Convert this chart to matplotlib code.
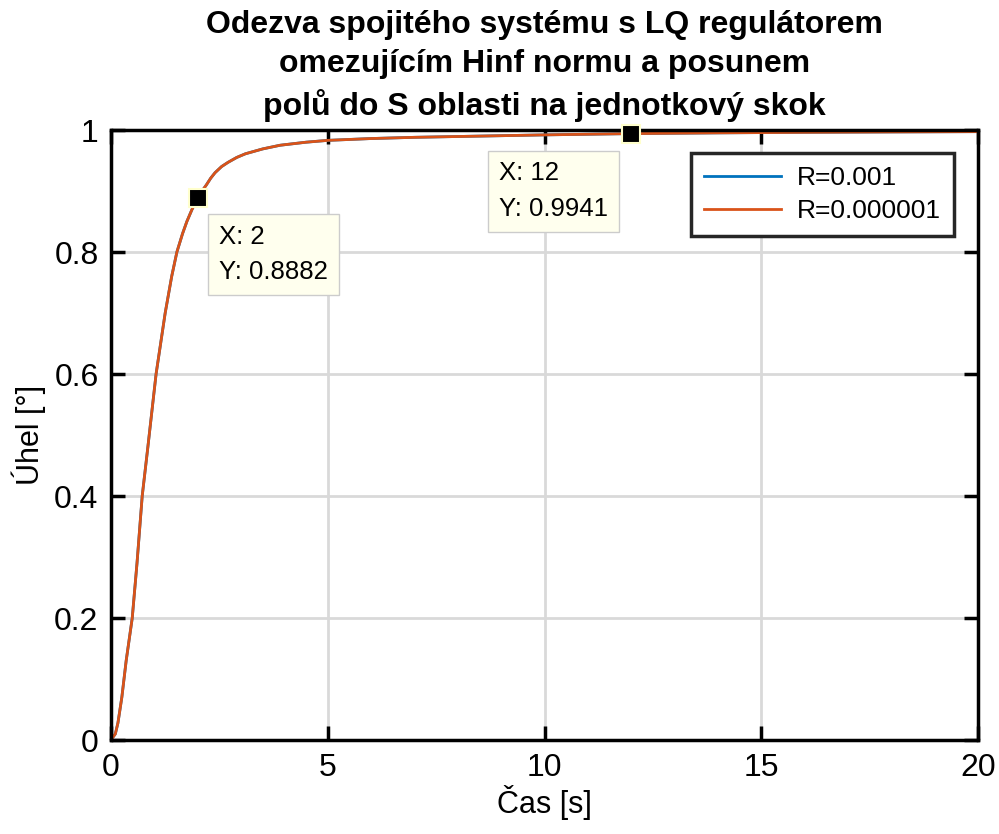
import matplotlib
matplotlib.use("Agg")
import matplotlib.pyplot as plt

# step response values
t = [0, 0.1, 0.16, 0.25, 0.35, 0.49, 0.6, 0.72, 0.85, 1.04, 1.25, 1.4, 1.52, 1.65, 1.75, 1.87, 2.0,
     2.1, 2.2, 2.3, 2.4, 2.55, 2.7, 2.9, 3.1, 3.5, 3.9, 4.5, 5, 6, 7, 8.5, 10, 12, 14, 16, 18, 20]
y_r1 = [0, 0.01, 0.028, 0.07, 0.13, 0.2, 0.29, 0.4, 0.48, 0.6, 0.7, 0.76, 0.8, 0.83, 0.85, 0.87, 0.8882,
        0.90, 0.91, 0.921, 0.93, 0.94, 0.947, 0.955, 0.961, 0.969, 0.975, 0.98, 0.983, 0.986, 0.988,
        0.990, 0.992, 0.9941, 0.9953, 0.9962, 0.9968, 0.9973]
y_r2 = [0, 0.01, 0.028, 0.07, 0.13, 0.2, 0.29, 0.4, 0.48, 0.6, 0.7, 0.76, 0.8, 0.83, 0.85, 0.87, 0.8882,
        0.90, 0.91, 0.921, 0.93, 0.94, 0.947, 0.955, 0.961, 0.969, 0.975, 0.98, 0.983, 0.986, 0.988,
        0.990, 0.992, 0.9941, 0.9953, 0.9962, 0.9968, 0.9973]
labels = ["R=0.001", "R=0.000001"]
tips_x = [2, 12]
tips_y = [0.8882, 0.9941]

plt.rcParams['font.family'] = ['Liberation Sans', 'DejaVu Sans']

fig = plt.figure(figsize=(9.99, 8.34), dpi=100)
ax = fig.add_axes([111/999, 1 - 740/834, (978-111)/999, (740-130)/834])

ax.plot(t, y_r1, color=(0, 0.447, 0.741), lw=2, label=labels[0])
ax.plot(t, y_r2, color=(0.85, 0.325, 0.098), lw=2, label=labels[1])

ax.set_xlim(0, 20)
ax.set_ylim(0, 1)
ax.set_xticks([0, 5, 10, 15, 20])
ax.set_yticks([0, 0.2, 0.4, 0.6, 0.8, 1])
ax.set_yticklabels(["0", "0.2", "0.4", "0.6", "0.8", "1"])
ax.grid(True, color='#d9d9d9', lw=2)
ax.set_axisbelow(True)
for s in ax.spines.values():
    s.set_linewidth(2.5)
ax.tick_params(direction='in', length=10, width=2.5, labelsize=23, top=True, right=True, pad=9)

ax.set_xlabel("Čas [s]", fontsize=22, labelpad=2)
ax.set_ylabel("Úhel [°]", fontsize=22, labelpad=6)
ax.set_title("Odezva spojitého systému s LQ regulátorem\nomezujícím Hinf normu a posunem\npolů do S oblasti na jednotkový skok",
             fontsize=23, fontweight='bold', pad=11, linespacing=1.38)

# datatips
ax.plot(tips_x, tips_y, 's', color='black', ms=13, mec='#ffffcc', mew=1.5, clip_on=False, zorder=5)
ax.annotate("X: 2\nY: 0.8882", (tips_x[0], tips_y[0]), xytext=(15.5, -19), textcoords='offset points',
            fontsize=18.5, va='top', ha='left', linespacing=1.6,
            bbox=dict(boxstyle='square,pad=0.42', fc='#ffffee', ec='#cccccc', lw=1))
ax.annotate("X: 12\nY: 0.9941", (tips_x[1], tips_y[1]), xytext=(-95, -20), textcoords='offset points',
            fontsize=18.5, va='top', ha='left', linespacing=1.6,
            bbox=dict(boxstyle='square,pad=0.42', fc='#ffffee', ec='#cccccc', lw=1))

leg = ax.legend(loc='upper right', bbox_to_anchor=(0.972, 0.963), fontsize=19, frameon=True,
                fancybox=False, handlelength=2.9, handletextpad=0.6, borderpad=0.5,
                labelspacing=0.35, borderaxespad=0)
leg.get_frame().set_edgecolor('#262626')
leg.get_frame().set_linewidth(2.5)
leg.get_frame().set_alpha(1)

fig.savefig("out.png", dpi=100)
